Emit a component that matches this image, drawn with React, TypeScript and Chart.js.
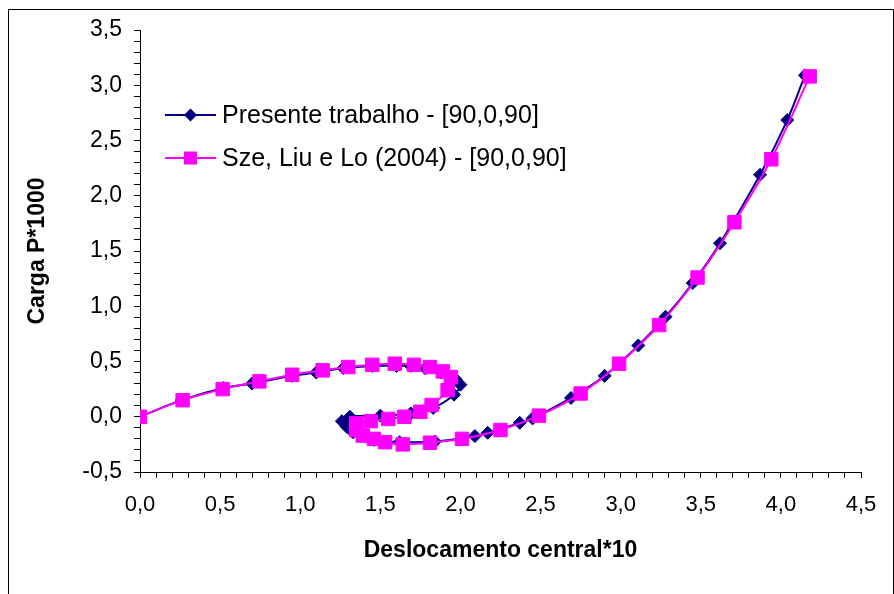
import React, { useEffect, useRef } from "react";
import { Chart, registerables } from "chart.js";

Chart.register(...registerables);

// Series 1: Presente trabalho - [90,0,90]
const presenteX = [0, 0.26, 0.52, 0.70, 0.95, 1.10, 1.27, 1.45, 1.60, 1.69, 1.78, 1.88, 1.97, 2.00, 1.96, 1.83, 1.69, 1.50, 1.31, 1.26, 1.29, 1.33, 1.46, 1.62, 1.84, 2.09, 2.17, 2.37, 2.45, 2.69, 2.90, 3.11, 3.28, 3.45, 3.62, 3.87, 4.04, 4.15];
const presenteY = [0, 0.15, 0.26, 0.30, 0.37, 0.40, 0.44, 0.46, 0.46, 0.46, 0.44, 0.40, 0.34, 0.29, 0.20, 0.08, 0.03, 0.01, 0.00, -0.04, -0.09, -0.14, -0.21, -0.23, -0.225, -0.175, -0.145, -0.055, -0.015, 0.17, 0.37, 0.645, 0.905, 1.21, 1.57, 2.19, 2.685, 3.09];

// Series 2: Sze, Liu e Lo (2004) - [90,0,90]
const szeX = [0, 0.266, 0.516, 0.745, 0.95, 1.14, 1.30, 1.45, 1.59, 1.71, 1.81, 1.89, 1.94, 1.92, 1.82, 1.75, 1.65, 1.55, 1.44, 1.35, 1.35, 1.39, 1.46, 1.53, 1.64, 1.81, 2.01, 2.25, 2.49, 2.75, 2.99, 3.24, 3.48, 3.71, 3.94, 4.18];
const szeY = [0, 0.15, 0.25, 0.32, 0.38, 0.42, 0.45, 0.47, 0.48, 0.47, 0.45, 0.41, 0.36, 0.24, 0.106, 0.045, 0.0, -0.02, -0.04, -0.06, -0.12, -0.17, -0.20, -0.23, -0.25, -0.235, -0.20, -0.12, 0.01, 0.21, 0.48, 0.83, 1.26, 1.76, 2.33, 3.08];

const seriesLabels = ["Presente trabalho - [90,0,90]", "Sze, Liu e Lo (2004) - [90,0,90]"];
const xTitle = "Deslocamento central*10";
const yTitle = "Carga P*1000";
const xRange = [0, 4.5];
const yRange = [-0.5, 3.5];

const NAVY = "#000080";
const PINK = "#FF00FF";
const FONT = "'Liberation Sans', Arial, sans-serif";

const fmt = (v: number) => {
  const r = Math.round(v * 2);
  if (Math.abs(v * 2 - r) > 1e-6) return "";
  return (r / 2).toFixed(1).replace(".", ",");
};

const legendPlugin = {
  id: "insideLegend",
  afterDraw(chart: any) {
    const ctx = chart.ctx;
    const ds = chart.data.datasets;
    const rows = [105, 148];
    ctx.save();
    ds.forEach((d: any, i: number) => {
      const y = rows[i];
      ctx.strokeStyle = d.borderColor;
      ctx.lineWidth = 2;
      ctx.beginPath();
      ctx.moveTo(156, y);
      ctx.lineTo(207, y);
      ctx.stroke();
      ctx.fillStyle = d.pointBackgroundColor;
      const cx = 181.5;
      if (d.pointStyle === "rectRot") {
        const r = 6.5;
        ctx.beginPath();
        ctx.moveTo(cx - r, y);
        ctx.lineTo(cx, y - r);
        ctx.lineTo(cx + r, y);
        ctx.lineTo(cx, y + r);
        ctx.closePath();
        ctx.fill();
      } else {
        ctx.fillRect(cx - 6.5, y - 6.5, 13, 13);
      }
      ctx.fillStyle = "#000";
      ctx.font = `25px ${FONT}`;
      ctx.textBaseline = "middle";
      ctx.textAlign = "left";
      ctx.fillText(d.label, 213, y + 1);
    });
    ctx.restore();
  },
};

export default function App() {
  const ref = useRef<HTMLCanvasElement>(null);
  useEffect(() => {
    if (!ref.current) return;
    const chart = new Chart(ref.current, {
      type: "scatter",
      data: {
        datasets: [
          {
            label: seriesLabels[0],
            data: presenteX.map((x, i) => ({ x, y: presenteY[i] })),
            showLine: true,
            borderColor: NAVY,
            backgroundColor: NAVY,
            pointBackgroundColor: NAVY,
            pointBorderColor: NAVY,
            pointStyle: "rectRot",
            pointRadius: 6.5,
            pointBorderWidth: 1,
            borderWidth: 2,
            tension: 0.35,
            order: 2,
          },
          {
            label: seriesLabels[1],
            data: szeX.map((x, i) => ({ x, y: szeY[i] })),
            showLine: true,
            borderColor: PINK,
            backgroundColor: PINK,
            pointBackgroundColor: PINK,
            pointBorderColor: PINK,
            pointStyle: "rect",
            pointRadius: 9.5,
            pointBorderWidth: 1,
            borderWidth: 2,
            tension: 0.35,
            order: 1,
          },
        ],
      },
      options: {
        animation: false,
        responsive: false,
        maintainAspectRatio: false,
        layout: { padding: { left: 0, top: 20, right: 32, bottom: 0 } },
        plugins: { legend: { display: false }, tooltip: { enabled: false } },
        scales: {
          x: {
            type: "linear",
            min: xRange[0],
            max: xRange[1],
            afterFit: (s: any) => {
              s.height = 122;
              s.paddingLeft = 0;
              s.paddingRight = 0;
            },
            ticks: {
              stepSize: 0.1,
              autoSkip: false,
              maxRotation: 0,
              padding: 14,
              color: "#000",
              font: { family: FONT, size: 22 },
              callback: (v: any) => fmt(Number(v)),
            },
            grid: { drawOnChartArea: false, drawTicks: true, tickLength: 6, color: "#000" },
            border: { display: true, color: "#000", width: 1 },
            title: {
              display: true,
              text: xTitle,
              color: "#000",
              font: { family: FONT, size: 23, weight: "bold" },
              padding: { top: 0, bottom: 30 },
            },
          },
          y: {
            type: "linear",
            min: yRange[0],
            max: yRange[1],
            afterFit: (s: any) => {
              s.width = 131;
              s.paddingTop = 0;
              s.paddingBottom = 0;
            },
            ticks: {
              stepSize: 0.1,
              autoSkip: false,
              padding: 12,
              color: "#000",
              font: { family: FONT, size: 23 },
              callback: (v: any) => fmt(Number(v)),
            },
            grid: { drawOnChartArea: false, drawTicks: true, tickLength: 6, color: "#000" },
            border: { display: true, color: "#000", width: 1 },
            title: {
              display: true,
              text: yTitle,
              color: "#000",
              font: { family: FONT, size: 23, weight: "bold" },
              padding: { top: 15, bottom: 0 },
            },
          },
        },
      },
      plugins: [legendPlugin],
    } as any);
    return () => chart.destroy();
  }, []);
  return (
    <div
      style={{
        position: "absolute",
        left: 8,
        top: 9,
        width: 886,
        height: 585,
        boxSizing: "border-box",
        borderLeft: "1px solid #000",
        borderTop: "1px solid #000",
        borderRight: "1px solid #000",
        background: "#fff",
      }}
    >
      <canvas ref={ref} width={884} height={584} style={{ display: "block" }} />
    </div>
  );
}
